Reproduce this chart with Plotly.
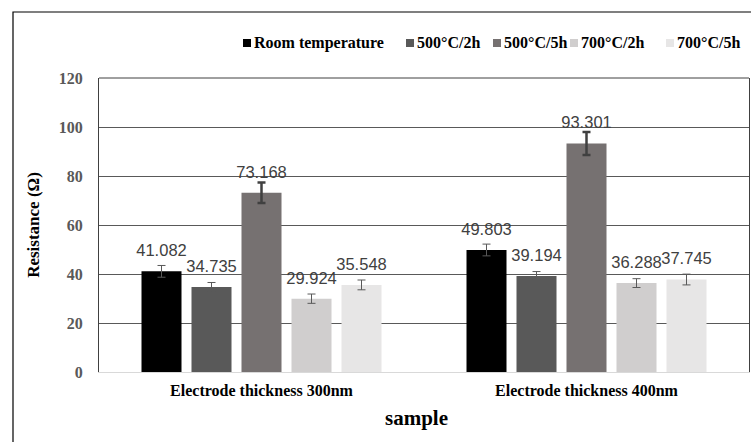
import plotly.graph_objects as go

categories = ["Electrode thickness 300nm", "Electrode thickness 400nm"]
series_names = ["Room temperature", "500°C/2h", "500°C/5h", "700°C/2h", "700°C/5h"]
room_temp = [41.082, 49.803]
c500_2h = [34.735, 39.194]
c500_5h = [73.168, 93.301]
c700_2h = [29.924, 36.288]
c700_5h = [35.548, 37.745]
err_room = [2.4, 2.4]
err_500_2h = [1.8, 1.8]
err_500_5h = [4.2, 4.7]
err_700_2h = [1.9, 1.8]
err_700_5h = [2.0, 2.2]
y_ticks = [0, 20, 40, 60, 80, 100, 120]

values = [room_temp, c500_2h, c500_5h, c700_2h, c700_5h]
errors = [err_room, err_500_2h, err_500_5h, err_700_2h, err_700_5h]
colors = ["#000000", "#595959", "#767171", "#d0cece", "#e7e6e6"]
err_colors = ["#595959", "#595959", "#404040", "#595959", "#595959"]
err_thick = [1, 1, 2.5, 1, 1]

fig = go.Figure()
for i in range(5):
    fig.add_trace(go.Bar(
        x=categories, y=values[i], name=series_names[i],
        marker=dict(color=colors[i], line=dict(width=0)),
        offsetgroup=str(i),
        error_y=dict(type="data", array=errors[i], visible=True,
                     color=err_colors[i], thickness=err_thick[i], width=4),
        showlegend=False,
    ))
for i in range(5):
    fig.add_trace(go.Scatter(
        x=categories, y=values[i], mode="markers+text",
        text=[f"{v:.3f}" for v in values[i]],
        textposition="top center",
        textfont=dict(family="Liberation Sans", size=16.5, color="#404040"),
        marker=dict(size=16, color="rgba(0,0,0,0)"),
        offsetgroup=str(i), showlegend=False, hoverinfo="skip",
        cliponaxis=False,
    ))

def px_x(p):
    return (p - 99) / 650

def px_y(p):
    return 1 + (78 - p) / 294

# legend drawn as annotations + square shapes
leg_x_px = [243, 406, 493, 570, 666]
annots = []
shapes = [
    dict(type="rect", xref="paper", yref="paper", x0=px_x(13), x1=1.2,
         y0=-0.6, y1=px_y(12), line=dict(color="#000000", width=1.2), layer="below"),
    dict(type="line", xref="paper", yref="paper", x0=0, x1=1, y0=1, y1=1,
         line=dict(color="#404040", width=1)),
]
for i in range(5):
    shapes.append(dict(
        type="rect", xref="paper", yref="paper",
        x0=px_x(leg_x_px[i]), x1=px_x(leg_x_px[i] + 8),
        y0=px_y(47), y1=px_y(39), fillcolor=colors[i], line=dict(width=0),
    ))
    annots.append(dict(
        xref="paper", yref="paper", x=px_x(leg_x_px[i] + 9), y=px_y(43),
        xanchor="left", yanchor="middle", showarrow=False,
        text=f"<b>{series_names[i]}</b>",
        font=dict(family="Liberation Serif", size=16, color="#000000"),
    ))
annots.append(dict(
    xref="paper", yref="paper", x=px_x(416), y=px_y(418),
    xanchor="center", yanchor="middle", showarrow=False,
    text="<b>sample</b>",
    font=dict(family="Liberation Serif", size=21, color="#000000"),
))

fig.update_layout(
    width=751, height=442,
    margin=dict(l=99, r=2, t=78, b=70),
    paper_bgcolor="white", plot_bgcolor="white",
    barmode="group", bargap=0.2308, bargroupgap=0.2,
    scattermode="group", scattergap=0.2308,
    annotations=annots,
    shapes=shapes,
    xaxis=dict(
        showline=True, linecolor="#d9d9d9", linewidth=1,
        tickfont=dict(family="Liberation Serif", size=16, color="#000000"),
        ticks="", ticklabelstandoff=4,
    ),
    yaxis=dict(
        range=[0, 120], tickvals=y_ticks, ticktext=[f"<b>{t}</b>" for t in y_ticks],
        showgrid=True, gridcolor="#595959", gridwidth=1,
        showline=True, linecolor="#404040", linewidth=1, mirror=True,
        zeroline=False, ticks="", ticklabelstandoff=12,
        tickfont=dict(family="Liberation Serif", size=16, color="#595959"),
        title=dict(text="<b>Resistance (Ω)</b>", font=dict(family="Liberation Serif", size=17, color="#000000"),
                   standoff=14),
    ),
)
fig.update_xaxes(tickvals=categories, ticktext=[f"<b>{c}</b>" for c in categories])

fig.write_html("out.html")
